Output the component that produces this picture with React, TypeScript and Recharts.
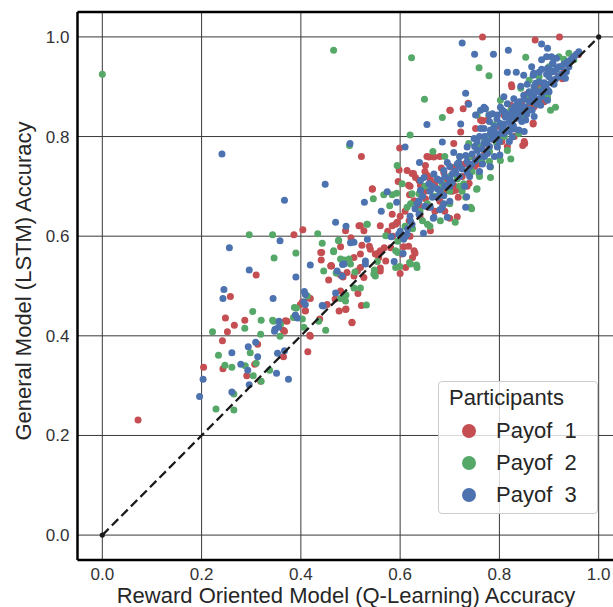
import { ScatterChart, Scatter, XAxis, YAxis, CartesianGrid, ReferenceLine, Legend } from 'recharts'

type Pt = [number, number]

// x = Q-Learning accuracy, y = LSTM accuracy
const payoff1: Pt[] = [
  [0.072, 0.231], [0.766, 1.0], [0.872, 0.994], [0.921, 1.0], [0.824, 0.904], [0.701, 0.853], [0.737, 0.867],
  [0.522, 0.760], [0.599, 0.777], [0.847, 0.782], [0.851, 0.786], [0.927, 0.916], [0.959, 0.964], [0.404, 0.613],
  [0.386, 0.603], [0.310, 0.522], [0.517, 0.621], [0.258, 0.479], [0.248, 0.436], [0.266, 0.421], [0.252, 0.408],
  [0.287, 0.431], [0.242, 0.390], [0.313, 0.383], [0.204, 0.337], [0.243, 0.334], [0.291, 0.320], [0.307, 0.343],
  [0.319, 0.309], [0.365, 0.358], [0.369, 0.430], [0.365, 0.411], [0.414, 0.368], [0.418, 0.401], [0.409, 0.451],
  [0.415, 0.477], [0.403, 0.468], [0.440, 0.567], [0.441, 0.552], [0.461, 0.541], [0.473, 0.526], [0.480, 0.522],
  [0.485, 0.518], [0.491, 0.454], [0.503, 0.427], [0.515, 0.485], [0.522, 0.461], [0.538, 0.580], [0.523, 0.582],
  [0.501, 0.597], [0.507, 0.557], [0.544, 0.694], [0.560, 0.536], [0.600, 0.525], [0.591, 0.624], [0.617, 0.580],
  [0.625, 0.557], [0.438, 0.434], [0.469, 0.474], [0.555, 0.565], [0.568, 0.577], [0.598, 0.733],
  [0.825, 0.900], [0.868, 0.825], [0.919, 0.921], [0.765, 0.831], [0.910, 0.913], [0.752, 0.816], [0.776, 0.833],
  [0.700, 0.853], [0.727, 0.856], [0.722, 0.809], [0.708, 0.786], [0.658, 0.759], [0.668, 0.759], [0.651, 0.742],
  [0.614, 0.732], [0.631, 0.718], [0.661, 0.714], [0.702, 0.739], [0.617, 0.702], [0.641, 0.702], [0.712, 0.692],
  [0.628, 0.671], [0.658, 0.658], [0.809, 0.843], [0.762, 0.833], [0.823, 0.863],
  [0.544, 0.695], [0.520, 0.621], [0.490, 0.611], [0.527, 0.611], [0.560, 0.621], [0.584, 0.621], [0.594, 0.628],
  [0.618, 0.631], [0.584, 0.644], [0.624, 0.726], [0.638, 0.712], [0.651, 0.675], [0.661, 0.611], [0.581, 0.577],
  [0.560, 0.571], [0.540, 0.574], [0.557, 0.557], [0.571, 0.550], [0.520, 0.564], [0.560, 0.530], [0.493, 0.527],
  [0.514, 0.530], [0.611, 0.537], [0.628, 0.571], [0.604, 0.564], [0.688, 0.728], [0.655, 0.722], [0.462, 0.540],
  [0.442, 0.567], [0.460, 0.540], [0.456, 0.512], [0.419, 0.475], [0.399, 0.463], [0.409, 0.450], [0.453, 0.463],
  [0.477, 0.450], [0.490, 0.453], [0.480, 0.490], [0.507, 0.520], [0.520, 0.537], [0.527, 0.517], [0.503, 0.426],
  [0.372, 0.429], [0.367, 0.409], [0.419, 0.399], [0.550, 0.564], [0.480, 0.579],
  [0.630, 0.566], [0.607, 0.579], [0.700, 0.636], [0.715, 0.639], [0.654, 0.760], [0.667, 0.760], [0.627, 0.726],
  [0.766, 0.832], [0.868, 0.827], [0.683, 0.737], [0.698, 0.703], [0.712, 0.739], [0.596, 0.710], [0.619, 0.683],
  [0.717, 0.678], [0.739, 0.706], [0.779, 0.780], [0.816, 0.780], [0.745, 0.760], [0.790, 0.800], [0.845, 0.870],
  [0.880, 0.900], [0.735, 0.700], [0.690, 0.690], [0.670, 0.650], [0.640, 0.640], [0.760, 0.745], [0.800, 0.820],
  [0.860, 0.860], [0.890, 0.870], [0.930, 0.930],
  [0.640, 0.660], [0.650, 0.690], [0.670, 0.705], [0.680, 0.670], [0.695, 0.715], [0.705, 0.690], [0.725, 0.720],
  [0.730, 0.745], [0.710, 0.700], [0.690, 0.650], [0.600, 0.640], [0.610, 0.650], [0.585, 0.600], [0.575, 0.610],
  [0.620, 0.600], [0.750, 0.740], [0.770, 0.770], [0.785, 0.810], [0.805, 0.790], [0.835, 0.845], [0.855, 0.885],
  [0.870, 0.860], [0.620, 0.700], [0.650, 0.730], [0.680, 0.760], [0.850, 0.790], [0.830, 0.800],
]

const payoff2: Pt[] = [
  [0.0, 0.925], [0.466, 0.973], [0.623, 0.958], [0.759, 0.938], [0.779, 0.922], [0.853, 0.959], [0.649, 0.875],
  [0.685, 0.838], [0.620, 0.803], [0.498, 0.782], [0.666, 0.770], [0.594, 0.742], [0.744, 0.655], [0.711, 0.628],
  [0.296, 0.603], [0.343, 0.603], [0.434, 0.605], [0.390, 0.566], [0.346, 0.556], [0.443, 0.586], [0.476, 0.592],
  [0.533, 0.624], [0.446, 0.530], [0.471, 0.526], [0.487, 0.552], [0.509, 0.528], [0.548, 0.532], [0.550, 0.520],
  [0.507, 0.496], [0.520, 0.496], [0.491, 0.482], [0.480, 0.475], [0.387, 0.457], [0.303, 0.449], [0.320, 0.431],
  [0.343, 0.431], [0.403, 0.434], [0.359, 0.423], [0.450, 0.411], [0.222, 0.408], [0.287, 0.415], [0.319, 0.403],
  [0.358, 0.399], [0.385, 0.437], [0.234, 0.361], [0.298, 0.366], [0.247, 0.341], [0.261, 0.337], [0.288, 0.340],
  [0.310, 0.345], [0.304, 0.320], [0.337, 0.331], [0.320, 0.309], [0.265, 0.283], [0.229, 0.253], [0.265, 0.251],
  [0.595, 0.590], [0.599, 0.539], [0.619, 0.547], [0.633, 0.542], [0.532, 0.462], [0.595, 0.567], [0.554, 0.549],
  [0.940, 0.967], [0.950, 0.954], [0.860, 0.913], [0.843, 0.897], [0.802, 0.873], [0.823, 0.853], [0.849, 0.836],
  [0.903, 0.853], [0.779, 0.843], [0.755, 0.843], [0.789, 0.823], [0.839, 0.806], [0.913, 0.859], [0.897, 0.880],
  [0.738, 0.786], [0.816, 0.772], [0.802, 0.752], [0.782, 0.739], [0.759, 0.725], [0.782, 0.718], [0.755, 0.695],
  [0.728, 0.705], [0.732, 0.678], [0.742, 0.658], [0.681, 0.692], [0.638, 0.685], [0.614, 0.658], [0.823, 0.755],
  [0.546, 0.675], [0.567, 0.683], [0.584, 0.683], [0.579, 0.661], [0.604, 0.705], [0.624, 0.685], [0.621, 0.665],
  [0.645, 0.631], [0.655, 0.624], [0.534, 0.624], [0.571, 0.601], [0.476, 0.591], [0.466, 0.571], [0.497, 0.554],
  [0.591, 0.571], [0.591, 0.537], [0.621, 0.544], [0.634, 0.537], [0.547, 0.524], [0.681, 0.631],
  [0.466, 0.569], [0.480, 0.554], [0.500, 0.544], [0.413, 0.480], [0.391, 0.456], [0.345, 0.429], [0.406, 0.417],
  [0.436, 0.429], [0.490, 0.470], [0.593, 0.686], [0.754, 0.694],
  [0.700, 0.720], [0.720, 0.760], [0.690, 0.760], [0.770, 0.790], [0.800, 0.800], [0.830, 0.840], [0.870, 0.900],
  [0.880, 0.920], [0.650, 0.700], [0.660, 0.620], [0.700, 0.665], [0.720, 0.700], [0.760, 0.780], [0.780, 0.770],
  [0.860, 0.880], [0.900, 0.940], [0.920, 0.960], [0.940, 0.950], [0.740, 0.760], [0.610, 0.620],
  [0.640, 0.650], [0.655, 0.665], [0.670, 0.680], [0.685, 0.705], [0.700, 0.690], [0.715, 0.715], [0.725, 0.690],
  [0.745, 0.730], [0.765, 0.750], [0.775, 0.800], [0.795, 0.785], [0.810, 0.800], [0.825, 0.825], [0.845, 0.855],
  [0.865, 0.870], [0.885, 0.895], [0.905, 0.930], [0.930, 0.955], [0.605, 0.600], [0.625, 0.615],
  [0.780, 0.750], [0.800, 0.760], [0.760, 0.720],
]

const payoff3: Pt[] = [
  [0.241, 0.765], [0.449, 0.704], [0.367, 0.672], [0.725, 0.988], [0.750, 0.965], [0.788, 0.965], [0.818, 0.973],
  [0.885, 0.986], [0.732, 0.887], [0.654, 0.824], [0.499, 0.786], [0.685, 0.789], [0.610, 0.779], [0.639, 0.748],
  [0.256, 0.577], [0.358, 0.591], [0.296, 0.532], [0.470, 0.628], [0.491, 0.620], [0.390, 0.518], [0.419, 0.542],
  [0.484, 0.543], [0.483, 0.520], [0.507, 0.588], [0.245, 0.493], [0.243, 0.475], [0.344, 0.475], [0.407, 0.489],
  [0.409, 0.483], [0.470, 0.486], [0.443, 0.461], [0.406, 0.468], [0.389, 0.442], [0.393, 0.436], [0.356, 0.429],
  [0.348, 0.413], [0.294, 0.378], [0.309, 0.387], [0.261, 0.366], [0.279, 0.343], [0.293, 0.331], [0.313, 0.358],
  [0.296, 0.302], [0.353, 0.365], [0.367, 0.370], [0.351, 0.325], [0.375, 0.313], [0.203, 0.313], [0.196, 0.278],
  [0.261, 0.287], [0.528, 0.668], [0.562, 0.650], [0.593, 0.668], [0.574, 0.689], [0.582, 0.599], [0.588, 0.549],
  [0.606, 0.565], [0.621, 0.630],
  [0.897, 0.977], [0.816, 0.929], [0.834, 0.929], [0.849, 0.923], [0.868, 0.923], [0.880, 0.929], [0.897, 0.937],
  [0.915, 0.957], [0.937, 0.950], [0.907, 0.947], [0.933, 0.917], [0.913, 0.915], [0.890, 0.908], [0.873, 0.907],
  [0.856, 0.905], [0.843, 0.901], [0.898, 0.893], [0.880, 0.890], [0.863, 0.886], [0.849, 0.883], [0.829, 0.876],
  [0.809, 0.880], [0.816, 0.866], [0.836, 0.865], [0.860, 0.870], [0.883, 0.863], [0.897, 0.873], [0.866, 0.853],
  [0.846, 0.849], [0.826, 0.853], [0.806, 0.853], [0.796, 0.843], [0.812, 0.839], [0.833, 0.836], [0.853, 0.833],
  [0.802, 0.826], [0.823, 0.819], [0.839, 0.813], [0.782, 0.813], [0.769, 0.816], [0.762, 0.853], [0.772, 0.856],
  [0.786, 0.846], [0.809, 0.806], [0.826, 0.799], [0.792, 0.799],
  [0.738, 0.865], [0.722, 0.825], [0.752, 0.843], [0.769, 0.859], [0.779, 0.843], [0.802, 0.859], [0.762, 0.816],
  [0.782, 0.806], [0.749, 0.796], [0.769, 0.786], [0.796, 0.779], [0.735, 0.779], [0.755, 0.772], [0.776, 0.766],
  [0.732, 0.762], [0.708, 0.768], [0.718, 0.748], [0.745, 0.745], [0.766, 0.745], [0.695, 0.748], [0.688, 0.732],
  [0.712, 0.728], [0.735, 0.728], [0.668, 0.725], [0.681, 0.712], [0.705, 0.708], [0.658, 0.705], [0.675, 0.695],
  [0.641, 0.712], [0.641, 0.692], [0.665, 0.678], [0.688, 0.681], [0.685, 0.658], [0.638, 0.671], [0.732, 0.658],
  [0.534, 0.594], [0.597, 0.604], [0.614, 0.604], [0.607, 0.594], [0.624, 0.624], [0.634, 0.665], [0.638, 0.644],
  [0.661, 0.658], [0.668, 0.638], [0.675, 0.678], [0.661, 0.692], [0.695, 0.702], [0.648, 0.718], [0.487, 0.544],
  [0.530, 0.550], [0.473, 0.530], [0.695, 0.638], [0.688, 0.665],
  [0.409, 0.463], [0.355, 0.417], [0.347, 0.409], [0.445, 0.460], [0.500, 0.587], [0.530, 0.544],
  [0.647, 0.606], [0.610, 0.599], [0.734, 0.679], [0.781, 0.740], [0.801, 0.763], [0.680, 0.653], [0.667, 0.636],
  [0.860, 0.890], [0.870, 0.880], [0.890, 0.900], [0.900, 0.920], [0.910, 0.930], [0.920, 0.940], [0.880, 0.875],
  [0.850, 0.860], [0.840, 0.840], [0.820, 0.830], [0.800, 0.790], [0.780, 0.780], [0.760, 0.760], [0.740, 0.740],
  [0.720, 0.720], [0.700, 0.700], [0.710, 0.730], [0.750, 0.780], [0.790, 0.820], [0.810, 0.850], [0.830, 0.860],
  [0.870, 0.900], [0.895, 0.905], [0.925, 0.925], [0.940, 0.940], [0.905, 0.960], [0.885, 0.935], [0.865, 0.940],
  [0.780, 0.830], [0.760, 0.800], [0.720, 0.760], [0.700, 0.740], [0.660, 0.690], [0.650, 0.660], [0.620, 0.640],
  [0.600, 0.610], [0.700, 0.670], [0.730, 0.700], [0.760, 0.730], [0.790, 0.760], [0.820, 0.790], [0.850, 0.810],
  [0.870, 0.840], [0.900, 0.890], [0.885, 0.954], [0.895, 0.960], [0.908, 0.946], [0.925, 0.940], [0.902, 0.933],
  [0.869, 0.927],
  [0.665, 0.700], [0.675, 0.715], [0.690, 0.720], [0.705, 0.725], [0.715, 0.745], [0.725, 0.735], [0.735, 0.750],
  [0.745, 0.765], [0.755, 0.790], [0.765, 0.775], [0.770, 0.800], [0.775, 0.790], [0.785, 0.795], [0.790, 0.810],
  [0.795, 0.835], [0.800, 0.805], [0.805, 0.815], [0.810, 0.825], [0.815, 0.845], [0.820, 0.810], [0.825, 0.840],
  [0.830, 0.815], [0.835, 0.850], [0.840, 0.870], [0.845, 0.830], [0.850, 0.875], [0.855, 0.845], [0.860, 0.855],
  [0.865, 0.875], [0.875, 0.865], [0.880, 0.910], [0.885, 0.880], [0.890, 0.890], [0.895, 0.925], [0.905, 0.910],
  [0.910, 0.905], [0.915, 0.935], [0.920, 0.920], [0.930, 0.945], [0.935, 0.930], [0.945, 0.955], [0.950, 0.960],
  [0.955, 0.965], [0.960, 0.970], [0.740, 0.720], [0.770, 0.760], [0.700, 0.715], [0.690, 0.700], [0.680, 0.690],
  [0.720, 0.740], [0.752, 0.752], [0.812, 0.812], [0.828, 0.822], [0.842, 0.858], [0.872, 0.890], [0.630, 0.655],
  [0.645, 0.680], [0.615, 0.615],
]

// identity line y = x
const diagonal: Pt[] = [[0, 0], [1, 1]]

const axisTicks = [0, 0.2, 0.4, 0.6, 0.8, 1.0]
const axisDomain: [number, number] = [-0.05, 1.05]
const seriesNames = ['Payof  1', 'Payof  2', 'Payof  3']
const seriesColors = ['#c44e52', '#55a868', '#4c72b0']
const seriesData = [payoff1, payoff2, payoff3]

const FONT = '"Liberation Sans", Arial, Helvetica, sans-serif'
const TEXT = '#262626'

const toRows = (pts: Pt[]) => pts.map(([x, y]) => ({ x, y }))

const dot = (color: string, r: number) => (props: any) =>
  <circle cx={props.cx} cy={props.cy} r={r} fill={color} />

const ParticipantsLegend = () => (
  <div style={{
    position: 'relative', width: 160, height: 133, boxSizing: 'border-box',
    background: 'rgba(255,255,255,0.8)', border: '1px solid #cccccc', borderRadius: 4,
    fontFamily: FONT, color: TEXT,
  }}>
    <div style={{ position: 'absolute', left: 10, top: 3, fontSize: 22, lineHeight: '26px' }}>Participants</div>
    {seriesNames.map((name, i) => (
      <div key={name} style={{ position: 'absolute', left: 0, top: 35 + i * 32, height: 28, display: 'flex', alignItems: 'center' }}>
        <span style={{ marginLeft: 23, width: 14, height: 14, borderRadius: '50%', background: seriesColors[i] }} />
        <span style={{ marginLeft: 20, fontSize: 22, lineHeight: '26px', whiteSpace: 'pre' }}>{name}</span>
      </div>
    ))}
  </div>
)

export default function App() {
  return (
    <div style={{ position: 'fixed', left: 0, top: 0, width: 613, height: 607, overflow: 'hidden', background: '#fff' }}>
      <ScatterChart width={630} height={607} margin={{ top: 12, right: 6.5, bottom: 17, left: 17.5 }}>
        <CartesianGrid stroke="#3a3a3a" strokeWidth={1} />
        <XAxis
          type="number" dataKey="x" domain={axisDomain} ticks={axisTicks} allowDataOverflow
          tickFormatter={(v: number) => v.toFixed(1)} height={30} tickLine={false} tickSize={0} tickMargin={8}
          axisLine={{ stroke: '#000', strokeWidth: 2.5 }}
          tick={{ fill: '#333', fontSize: 17, fontFamily: FONT }}
        />
        <YAxis
          type="number" dataKey="y" domain={axisDomain} ticks={axisTicks} allowDataOverflow
          tickFormatter={(v: number) => v.toFixed(1)} width={60} tickLine={false} tickSize={0} tickMargin={8}
          axisLine={{ stroke: '#000', strokeWidth: 2.5 }}
          tick={{ fill: '#333', fontSize: 17, fontFamily: FONT }}
        />
        <ReferenceLine y={axisDomain[1]} stroke="#000" strokeWidth={2.5} />
        {seriesData.map((pts, i) => (
          <Scatter
            key={seriesNames[i]} name={seriesNames[i]} data={toRows(pts)} fill={seriesColors[i]}
            shape={dot(seriesColors[i], 3.5)} isAnimationActive={false}
          />
        ))}
        <Scatter
          data={toRows(diagonal)} fill="#1a1a1a" legendType="none"
          line={{ stroke: '#1a1a1a', strokeWidth: 2.3, strokeDasharray: '9 4.5' }}
          shape={dot('#1a1a1a', 2.6)} isAnimationActive={false}
        />
        <Legend
          layout="vertical" align="center" verticalAlign="middle"
          content={<ParticipantsLegend />}
          wrapperStyle={{ position: 'absolute', left: 438, top: 381, width: 160, height: 133 }}
        />
      </ScatterChart>
      <div style={{
        position: 'absolute', left: 0, top: 583, width: 692, lineHeight: '26px', textAlign: 'center',
        fontFamily: FONT, fontSize: 22, color: TEXT, whiteSpace: 'nowrap',
      }}>
        Reward Oriented Model (Q-Learning) Accuracy
      </div>
      <div style={{
        position: 'absolute', left: -176.5, top: 267.5, width: 400, height: 26, lineHeight: '26px',
        textAlign: 'center', transform: 'rotate(-90deg)', transformOrigin: 'center',
        fontFamily: FONT, fontSize: 22, color: TEXT, whiteSpace: 'nowrap',
      }}>
        General Model (LSTM) Accuracy
      </div>
    </div>
  )
}
